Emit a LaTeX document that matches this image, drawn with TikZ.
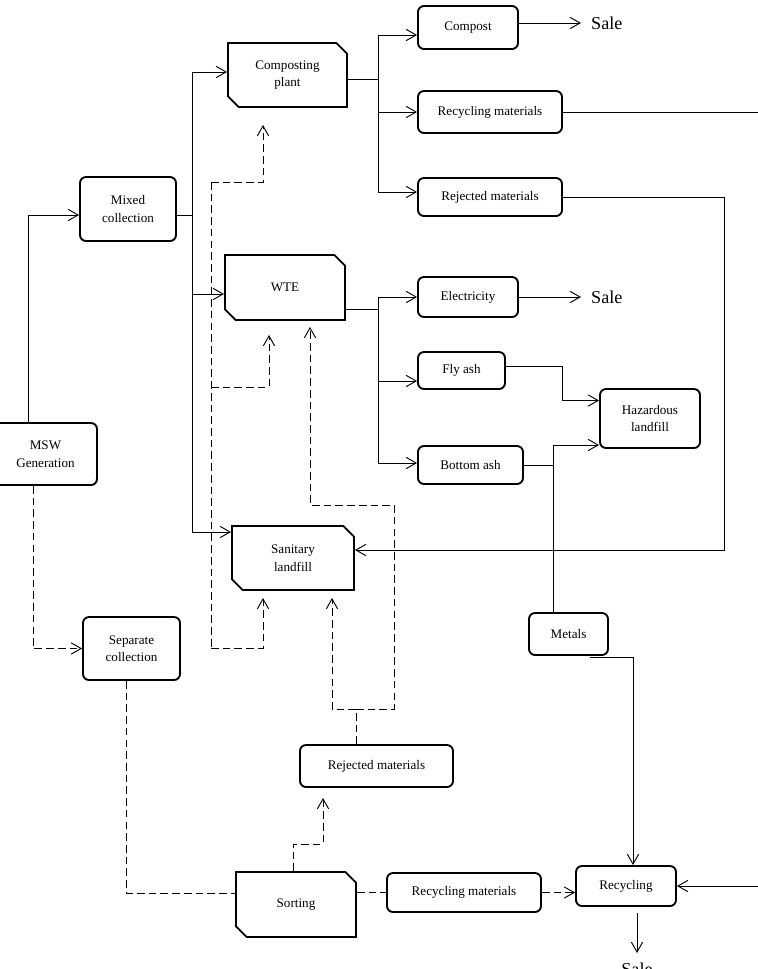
\documentclass[tikz,border=0pt]{standalone}
\usepackage{fontspec}
\setmainfont{Liberation Serif}
\usetikzlibrary{arrows.meta,calc,shapes.misc}

\tikzset{
  rbox/.style={draw, line width=1.6pt, rounded corners=1.8mm, align=center,
    font=\fontsize{11.2}{15}\selectfont, inner sep=2pt},
  cbox/.style={draw, line width=1.6pt, chamfered rectangle,
    chamfered rectangle corners={north east,south west},
    chamfered rectangle xsep=0.16cm, chamfered rectangle ysep=0.16cm,
    align=center, font=\fontsize{11.2}{15}\selectfont, inner sep=2pt},
  sale/.style={font=\fontsize{15.5}{18}\selectfont, inner sep=0.3cm},
  conn/.style={line width=0.8pt},
  flow/.style={conn, -{Straight Barb[length=3mm,width=3.4mm]}},
  dconn/.style={conn, dash pattern=on 6.5pt off 3.5pt},
  dflow/.style={flow, dash pattern=on 6.5pt off 3.5pt}
}

\begin{document}
\begin{tikzpicture}[x=0.03cm,y=-0.03cm]

  \useasboundingbox (0,0) rectangle (758,969);

  \node[rbox, minimum width=3.09cm, minimum height=1.86cm] (msw) at (45.5,454) {MSW\\Generation};
  \node[rbox, minimum width=2.88cm, minimum height=1.92cm] (mixed) at (128,209) {Mixed\\collection};
  \node[rbox, minimum width=2.91cm, minimum height=1.89cm] (sep) at (131.5,648.5) {Separate\\collection};

  \node[cbox, minimum width=3.57cm, minimum height=1.92cm] (comp) at (287.5,75) {Composting\\plant};
  \node[cbox, minimum width=3.6cm, minimum height=1.95cm] (wte) at (285,287.5) {WTE};
  \node[cbox, minimum width=3.66cm, minimum height=1.92cm] (sani) at (293,558) {Sanitary\\landfill};
  \node[cbox, minimum width=3.6cm, minimum height=1.95cm] (sort) at (296,904.5) {Sorting};

  \node[rbox, minimum width=3cm, minimum height=1.29cm] (compost) at (468,27.5) {Compost};
  \node[rbox, minimum width=4.32cm, minimum height=1.26cm] (rectop) at (490,112) {Recycling materials};
  \node[rbox, minimum width=4.32cm, minimum height=1.14cm] (rejtop) at (490,197) {Rejected materials};
  \node[rbox, minimum width=3cm, minimum height=1.2cm] (elec) at (468,297) {Electricity};
  \node[rbox, minimum width=2.61cm, minimum height=1.11cm] (flyash) at (461.5,370.5) {Fly ash};
  \node[rbox, minimum width=3.15cm, minimum height=1.14cm] (bottom) at (470.5,465) {Bottom ash};
  \node[rbox, minimum width=3cm, minimum height=1.77cm] (haz) at (650,418.5) {Hazardous\\landfill};
  \node[rbox, minimum width=2.37cm, minimum height=1.26cm] (metals) at (568.5,634) {Metals};
  \node[rbox, minimum width=4.59cm, minimum height=1.26cm] (rejbot) at (376.5,766) {Rejected materials};
  \node[rbox, minimum width=4.62cm, minimum height=1.17cm] (recbot) at (464,892.5) {Recycling materials};
  \node[rbox, minimum width=3cm, minimum height=1.2cm] (recyc) at (626,886) {Recycling};

  \node[sale, anchor=west] (sale1) at (581,23) {Sale};
  \node[sale, anchor=west] (sale2) at (581,297) {Sale};
  \node[sale, anchor=north] (sale3) at (637,953) {Sale};

  \coordinate (bus) at (192,72);
  \coordinate (buswte) at (192,294);
  \coordinate (busend) at (192,532);
  \coordinate (cbus) at (378,35);
  \coordinate (cbusend) at (378,192);
  \coordinate (wbus) at (378,297);
  \coordinate (wfly) at (378,381);
  \coordinate (wbusend) at (378,463);
  \coordinate (split) at (553,445);
  \coordinate (dtop) at (211,182);
  \coordinate (dmid) at (211,387);
  \coordinate (dbot) at (211,648);
  \coordinate (rj) at (356,709);

  \draw[flow] ($(msw.north)+(-17.5,0)$) |- ($(mixed.west)+(0,6)$);
  \draw[conn] ($(mixed.east)+(0,6)$) -- ++(16,0);
  \draw[conn] (bus) -- (busend);
  \draw[flow] (bus) -- (bus -| comp.west);
  \draw[flow] (buswte) -- (buswte -| wte.west);
  \draw[flow] (busend) -- (busend -| sani.west);

  \draw[conn] ($(comp.east)+(0,4)$) -- ++(31,0);
  \draw[conn] (cbus) -- (cbusend);
  \draw[flow] (cbus) -- (cbus -| compost.west);
  \draw[flow] (cbus |- rectop.west) -- (rectop.west);
  \draw[flow] (cbusend) -- (cbusend -| rejtop.west);
  \draw[flow] ($(compost.east)+(0,-4.5)$) -- (sale1.west);
  \draw[flow] (rectop.east) -- ++(205,0) |- (recyc.east);
  \draw[flow] (rejtop.east) -- ++(162,0) |- ($(sani.east)+(0,-8)$);

  \draw[conn] ($(wte.east)+(0,22)$) -- ++(33,0);
  \draw[conn] (wbus) -- (wbusend);
  \draw[flow] (wbus) -- (wbus -| elec.west);
  \draw[flow] (wfly) -- (wfly -| flyash.west);
  \draw[flow] (wbusend) -- (wbusend -| bottom.west);
  \draw[flow] (elec.east) -- (sale2.west);
  \draw[flow] ($(flyash.east)+(0,-4)$) -- ++(57,0) |- ($(haz.west)+(0,-18)$);
  \draw[conn] (bottom.east) -- (bottom.east -| split);
  \draw[flow] (split) -- (split -| haz.west);
  \draw[conn] (split) -- (split |- metals.north);
  \draw[flow] ($(metals.south)+(21,2)$) -| ($(recyc.north)+(7,0)$);
  \draw[flow] ($(recyc.south)+(11,6)$) -- (sale3.north);

  \draw[dflow] ($(msw.south)+(-12.5,0)$) |- (sep.west);
  \draw[dconn] ($(sep.south)+(-5,0)$) |- ($(sort.west)+(0,-11.5)$);
  \draw[dflow] ($(sort.north)+(-3,0)$) -- ++(0,-27) -| ($(rejbot.south)+(-53.5,10)$);
  \draw[dconn] (sort.east |- recbot.west) -- (recbot.west);
  \draw[dflow] (recbot.east) -- (recbot.east -| recyc.west);

  \draw[dconn] ($(rejbot.north)+(-20.5,0)$) -- (rj);
  \draw[dflow] (rj) -| ($(sani.south)+(39,7)$);
  \draw[dflow] (rj) -- ++(38,0) -- ++(0,-204) -| ($(wte.south)+(25,6)$);

  \draw[dconn] (dtop) -- (dbot);
  \draw[dflow] (dtop) -| ($(comp.south)+(-24.5,17)$);
  \draw[dflow] (dmid) -| ($(wte.south)+(-16,14)$);
  \draw[dflow] (dbot) -| ($(sani.south)+(-30,7)$);

\end{tikzpicture}
\end{document}
